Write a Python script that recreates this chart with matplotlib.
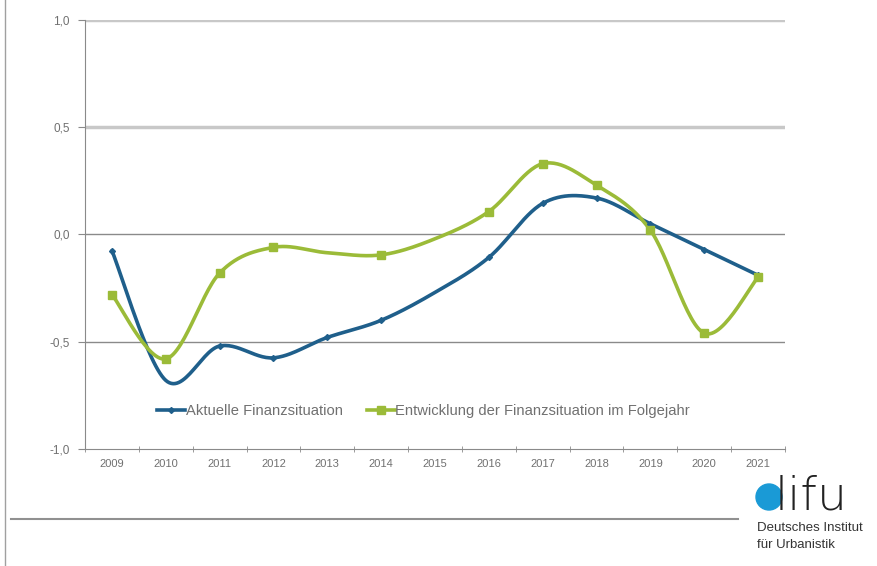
import numpy as np
import matplotlib.pyplot as plt
from matplotlib.lines import Line2D
from matplotlib.patches import Circle

plt.rcParams['font.family'] = ['Liberation Sans', 'DejaVu Sans']

years = ['2009', '2010', '2011', '2012', '2013', '2014', '2015',
         '2016', '2017', '2018', '2019', '2020', '2021']
aktuell = [-0.075, -0.68, -0.52, -0.575, -0.48, -0.40, -0.27,
           -0.107, 0.145, 0.17, 0.05, -0.07, -0.19]
folgejahr = [-0.28, -0.58, -0.18, -0.06, -0.085, -0.095, -0.02,
             0.107, 0.33, 0.23, 0.02, -0.46, -0.20]
yticks = [-1.0, -0.5, 0.0, 0.5, 1.0]
ytick_labels = ['-1,0', '-0,5', '0,0', '0,5', '1,0']

BLUE = '#1f5f8b'
GREEN = '#9bbb38'
TXT = '#707070'


def smooth(x, y, n=30):
    # catmull-rom like excel's smoothed line
    x = np.asarray(x, float)
    y = np.asarray(y, float)
    px = np.concatenate([[x[0]], x, [x[-1]]])
    py = np.concatenate([[y[0]], y, [y[-1]]])
    xs, ys = [], []
    for i in range(1, len(px) - 2):
        p0, p1, p2, p3 = (np.array([px[j], py[j]]) for j in range(i - 1, i + 3))
        c1 = p1 + (p2 - p0) / 6
        c2 = p2 - (p3 - p1) / 6
        t = np.linspace(0, 1, n)[:, None]
        b = ((1 - t) ** 3) * p1 + 3 * ((1 - t) ** 2) * t * c1 + 3 * (1 - t) * t ** 2 * c2 + t ** 3 * p2
        xs.append(b[:, 0])
        ys.append(b[:, 1])
    return np.concatenate(xs), np.concatenate(ys)


fig = plt.figure(figsize=(8.77, 5.66), dpi=100)
ax = fig.add_axes([0.0969, 0.2067, 0.7982, 0.758])

x = np.arange(len(years))

# grid lines
for yv in yticks[1:]:
    if yv >= 0.5:
        ax.axhline(yv, color='#c8c8c8', lw=2.5, zorder=0)
    else:
        ax.axhline(yv, color='#8a8a8a', lw=1.0, zorder=0)

sx, sy = smooth(x, aktuell)
ax.plot(sx, sy, color=BLUE, lw=2.6, solid_capstyle='round', zorder=3)
ax.plot(x, aktuell, ls='none', marker='D', ms=3, color=BLUE,
        markevery=[0, 2, 3, 4, 5, 7, 8, 9, 10, 11, 12], zorder=4)

sx, sy = smooth(x, folgejahr)
ax.plot(sx, sy, color=GREEN, lw=2.6, solid_capstyle='round', zorder=3)
ax.plot(x, folgejahr, ls='none', marker='s', ms=5.5, color=GREEN,
        markevery=[0, 1, 2, 3, 5, 7, 8, 9, 10, 11, 12], zorder=4)

ax.set_xlim(-0.5, len(years) - 0.5)
ax.set_ylim(-1.0, 1.0)
ax.set_yticks(yticks)
ax.set_yticklabels(ytick_labels)
ax.set_xticks(x)
ax.set_xticklabels(years)
ax.set_xticks(np.arange(-0.5, len(years), 1.0), minor=True)
ax.tick_params(axis='x', which='major', length=0, pad=7, labelsize=8, labelcolor=TXT)
ax.tick_params(axis='x', which='minor', length=5, color='#8a8a8a', direction='inout')
ax.tick_params(axis='y', length=5, color='#8a8a8a', labelsize=8.5, labelcolor=TXT, pad=6)

for s in ['top', 'right']:
    ax.spines[s].set_visible(False)
ax.spines['left'].set_color('#8a8a8a')
ax.spines['bottom'].set_color('#8a8a8a')

handles = [Line2D([0], [0], color=BLUE, lw=2.6, marker='D', ms=3),
           Line2D([0], [0], color=GREEN, lw=2.6, marker='s', ms=5.5)]
ax.legend(handles, ['Aktuelle Finanzsituation',
                    'Entwicklung der Finanzsituation im Folgejahr'],
          loc='center', bbox_to_anchor=(0.484, 0.089), ncol=2, frameon=False,
          fontsize=10.6, labelcolor=TXT, handlelength=1.9, handletextpad=0.05,
          columnspacing=1.6)

# frame lines outside the chart
fig.add_artist(Line2D([0.006, 0.006], [0, 1], color='#a0a0a0', lw=1))
fig.add_artist(Line2D([0.012, 0.842], [1 - 519 / 566] * 2, color='#909090', lw=1.5))

# logo
fig.add_artist(Circle((7.69, (566 - 497) / 100), 0.13, color='#1a9ad6',
                      transform=fig.dpi_scale_trans))
fig.text(775 / 877, 1 - 496 / 566, 'lifu', fontsize=34, color='#222222',
         va='center', ha='left', family=['DejaVu Sans'], fontweight='light')
fig.text(757 / 877, 1 - 528 / 566, 'Deutsches Institut', fontsize=9.5,
         color='#333333', va='center', ha='left')
fig.text(757 / 877, 1 - 545 / 566, 'für Urbanistik', fontsize=9.5,
         color='#333333', va='center', ha='left')

fig.savefig('out.png', dpi=100)
